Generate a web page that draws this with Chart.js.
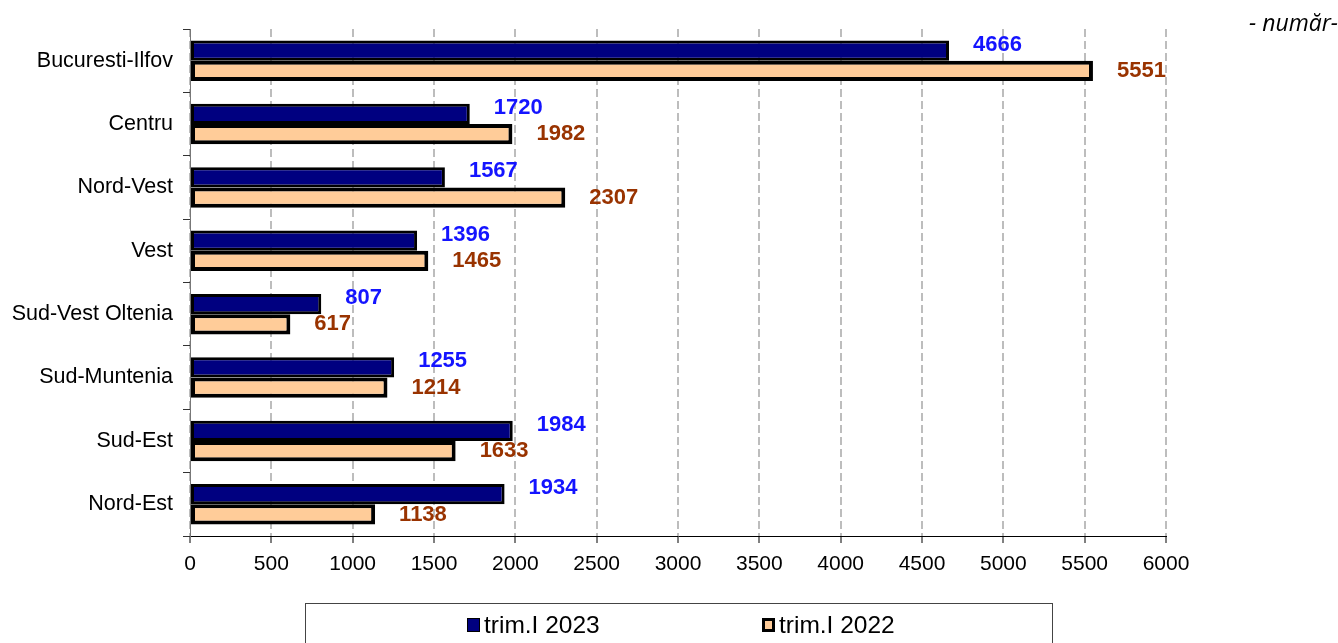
<!DOCTYPE html>
<html>
<head>
<meta charset="utf-8">
<script src="https://cdn.jsdelivr.net/npm/chart.js@4/dist/chart.umd.min.js"></script>
<style>
html, body { margin: 0; padding: 0; background: #fff; }
</style>
</head>
<body>
<canvas id="regionchart" width="1338" height="643"></canvas>
<script>
const regions = ["Bucuresti-Ilfov", "Centru", "Nord-Vest", "Vest", "Sud-Vest Oltenia", "Sud-Muntenia", "Sud-Est", "Nord-Est"];
const values2023 = [4666, 1720, 1567, 1396, 807, 1255, 1984, 1934];
const values2022 = [5551, 1982, 2307, 1465, 617, 1214, 1633, 1138];
const seriesNames = ["trim.I 2023", "trim.I 2022"];
const xTicks = [0, 500, 1000, 1500, 2000, 2500, 3000, 3500, 4000, 4500, 5000, 5500, 6000];
const unitNote = "- număr-";

const FONT = "Arial, 'Liberation Sans', sans-serif";
const labelColors = ["#1414ff", "#993300"];

// value labels next to the bar ends
const valueLabels = {
    id: "valueLabels",
    afterDatasetsDraw(chart) {
        const ctx = chart.ctx;
        ctx.save();
        ctx.font = "bold 22px " + FONT;
        ctx.textBaseline = "middle";
        ctx.textAlign = "left";
        chart.data.datasets.forEach((ds, i) => {
            const meta = chart.getDatasetMeta(i);
            meta.data.forEach((bar, j) => {
                ctx.fillStyle = labelColors[i];
                const dy = i === 0 ? -6 : 0;
                ctx.fillText(String(ds.data[j]), bar.x + 24, bar.y + dy);
            });
        });
        ctx.restore();
    }
};

// boxed legend at the bottom and the unit note at top right
const extras = {
    id: "extras",
    afterDraw(chart) {
        const ctx = chart.ctx;
        ctx.save();
        ctx.strokeStyle = "#444";
        ctx.lineWidth = 1;
        ctx.strokeRect(305.5, 603.5, 747, 50);

        const itemX = [467, 762];
        ctx.font = "24.5px " + FONT;
        ctx.textBaseline = "middle";
        ctx.textAlign = "left";
        chart.data.datasets.forEach((ds, i) => {
            const x = itemX[i];
            ctx.fillStyle = "#000";
            ctx.fillRect(x, 618, 13, 14);
            ctx.fillStyle = ds.backgroundColor;
            const b = i === 0 ? 1 : 3;
            ctx.fillRect(x + b, 618 + b, 13 - 2 * b, 14 - 2 * b);
            ctx.fillStyle = "#000";
            ctx.fillText(ds.label, x + 17, 626);
        });

        ctx.font = "italic 23px 'Open Sans', sans-serif";
        ctx.textAlign = "right";
        ctx.fillStyle = "#000";
        ctx.fillText(unitNote, 1338, 24);
        ctx.restore();
    }
};

const ctx = document.getElementById("regionchart").getContext("2d");
new Chart(ctx, {
    type: "bar",
    data: {
        labels: regions,
        datasets: [{
            label: seriesNames[0],
            data: values2023,
            backgroundColor: "#000080",
            borderColor: "#000",
            borderWidth: 3,
            borderSkipped: false
        }, {
            label: seriesNames[1],
            data: values2022,
            backgroundColor: "#ffcc99",
            borderColor: "#000",
            borderWidth: 4,
            borderSkipped: false
        }]
    },
    options: {
        indexAxis: "y",
        responsive: false,
        devicePixelRatio: 1,
        animation: false,
        categoryPercentage: 0.64,
        barPercentage: 1,
        layout: { padding: { top: 29, right: 172, bottom: 67, left: 0 } },
        plugins: {
            legend: { display: false },
            tooltip: { enabled: false }
        },
        scales: {
            x: {
                min: 0,
                max: 6000,
                afterBuildTicks: s => { s.ticks = xTicks.map(v => ({ value: v })); },
                afterFit: s => { s.height = 40; },
                ticks: { color: "#000", font: { family: FONT, size: 21 }, padding: 9, maxRotation: 0, callback: v => String(v) },
                grid: { color: "#bdbdbd", lineWidth: 2, tickLength: 7, tickColor: "#000", tickWidth: 1 },
                border: { color: "#000", width: 1, dash: [8, 4] }
            },
            y: {
                afterFit: s => { s.width = 190; },
                ticks: { color: "#000", font: { family: FONT, size: 21.5 }, padding: 10 },
                grid: { drawOnChartArea: false, tickLength: 7, color: "#333", offset: true },
                border: { color: "#777", width: 1 }
            }
        }
    },
    plugins: [valueLabels, extras]
});
</script>
</body>
</html>
